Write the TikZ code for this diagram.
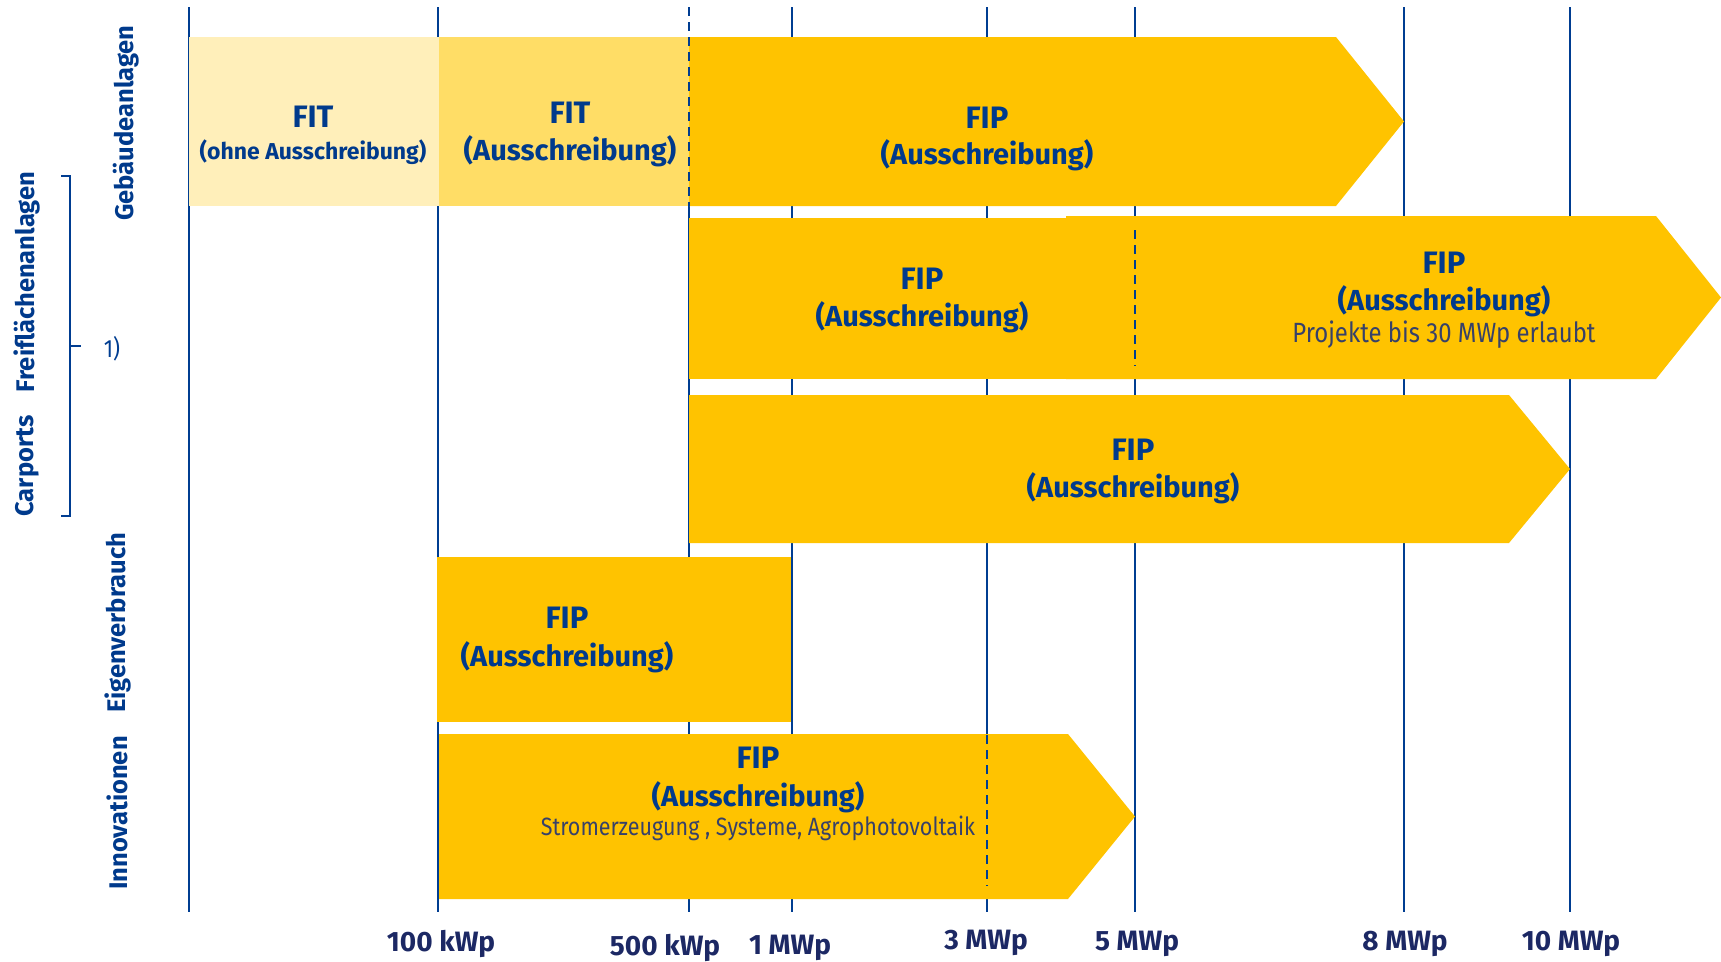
\documentclass[tikz,border=0pt]{standalone}
\usepackage{fontspec}
\setmainfont{Fira Sans}
\newfontfamily\narrowfont{Fira Sans}[FakeStretch=0.86]

\definecolor{lineblue}{RGB}{0,61,145}
\definecolor{textblue}{RGB}{0,58,140}
\definecolor{navy}{RGB}{28,40,100}
\definecolor{fitpale}{RGB}{255,239,186}
\definecolor{fitmid}{RGB}{255,221,102}
\definecolor{fipgold}{RGB}{255,195,0}
\definecolor{subgray}{RGB}{55,65,105}

\begin{document}
\begin{tikzpicture}[x=1pt,y=-1pt,
  scaleline/.style={lineblue,line width=2pt},
  dashline/.style={lineblue,line width=2pt,dash pattern=on 9pt off 6pt},
  head/.style={textblue,font=\fontsize{31}{31}\selectfont\bfseries,inner sep=0pt},
  tender/.style={textblue,font=\fontsize{29}{29}\selectfont\bfseries,inner sep=0pt},
  note/.style={subgray,font=\narrowfont\fontsize{25}{25}\selectfont,inner sep=0pt},
  rowlabel/.style={textblue,rotate=90,font=\fontsize{25.5}{25.5}\selectfont\bfseries,inner sep=0pt},
  ticklabel/.style={navy,font=\fontsize{28}{28}\selectfont\bfseries,inner sep=0pt}]
\useasboundingbox (0,0) rectangle (1721,961);

% scale lines
\foreach \x in {189,438,792,987,1135,1404,1570}
  \draw[scaleline] (\x,7) -- (\x,912);
\draw[scaleline] (689,206) -- (689,912);

% Gebaeudeanlagen
\fill[fitpale] (189,37) rectangle (439,206);
\fill[fitmid] (439,37) rectangle (689,206);
\fill[fipgold] (689,37) -- (1336,37) -- (1404,121.5) -- (1336,206) -- (689,206) -- cycle;
% Freiflaechenanlagen
\fill[fipgold] (689,218) rectangle (1068,379);
\fill[fipgold] (1066,216) -- (1656,216) -- (1721,297.5) -- (1656,379) -- (1066,379) -- cycle;
% Carports
\fill[fipgold] (689,395) -- (1509,395) -- (1570,469) -- (1509,543) -- (689,543) -- cycle;
% Eigenverbrauch
\fill[fipgold] (437,557) rectangle (791,722);
% Innovationen
\fill[fipgold] (439,734) -- (1068,734) -- (1135,816.5) -- (1068,899) -- (439,899) -- cycle;

% dashed limits
\draw[dashline] (689,7) -- (689,206);
\draw[dashline] (1135,230) -- (1135,366);
\draw[dashline] (987,735) -- (987,886);

% texts in the bars
\node[head] (fitA) at (313,117) {FIT};
\node[textblue,font=\fontsize{23}{23}\selectfont\bfseries,inner sep=0pt] (fitAsub) at (313,152) {(ohne Ausschreibung)};
\node[head] (fitB) at (570,113) {FIT};
\node[tender] (fitBsub) at (570,151) {(Ausschreibung)};
\node[head] (fipGeb) at (987,118) {FIP};
\node[tender] (fipGebSub) at (987,155) {(Ausschreibung)};
\node[head] (fipFreiA) at (922,279) {FIP};
\node[tender] (fipFreiAsub) at (922,317) {(Ausschreibung)};
\node[head] (fipFreiB) at (1444,263) {FIP};
\node[tender] (fipFreiBsub) at (1444,301) {(Ausschreibung)};
\node[note,font=\narrowfont\fontsize{27.8}{27.8}\selectfont] (freiNote) at (1444,335) {Projekte bis 30 MWp erlaubt};
\node[head] (fipCar) at (1133,450) {FIP};
\node[tender] (fipCarSub) at (1133,488) {(Ausschreibung)};
\node[head] (fipEigen) at (567,618) {FIP};
\node[tender] (fipEigenSub) at (567,657) {(Ausschreibung)};
\node[head] (fipInno) at (758,758) {FIP};
\node[tender] (fipInnoSub) at (758,797) {(Ausschreibung)};
\node[note] (innoNote) at (758,828) {Stromerzeugung , Systeme, Agrophotovoltaik};

% row labels
\node[rowlabel] (lGeb) at (126,123) {Gebäudeanlagen};
\node[rowlabel] (lFrei) at (27,282) {Freiflächenanlagen};
\node[rowlabel] (lCar) at (27,466) {Carports};
\node[rowlabel] (lEigen) at (118,623) {Eigenverbrauch};
\node[rowlabel] (lInno) at (117,813) {Innovationen};

% bracket with footnote
\draw[lineblue,line width=1.6pt] (61,176) -- (70,176) -- (70,516) -- (61,516);
\draw[lineblue,line width=1.6pt] (70,346) -- (81,346);
\node[lineblue,font=\narrowfont\fontsize{25}{25}\selectfont,inner sep=0pt] (fn) at (112,349) {1)};

% scale labels
\node[ticklabel] (t100k) at (441,944) {100 kWp};
\node[ticklabel] (t500k) at (665,948) {500 kWp};
\node[ticklabel] (t1M) at (790,948) {1 MWp};
\node[ticklabel] (t3M) at (986,943) {3 MWp};
\node[ticklabel] (t5M) at (1137,944) {5 MWp};
\node[ticklabel] (t8M) at (1405,944) {8 MWp};
\node[ticklabel] (t10M) at (1571,944) {10 MWp};
\end{tikzpicture}
\end{document}
